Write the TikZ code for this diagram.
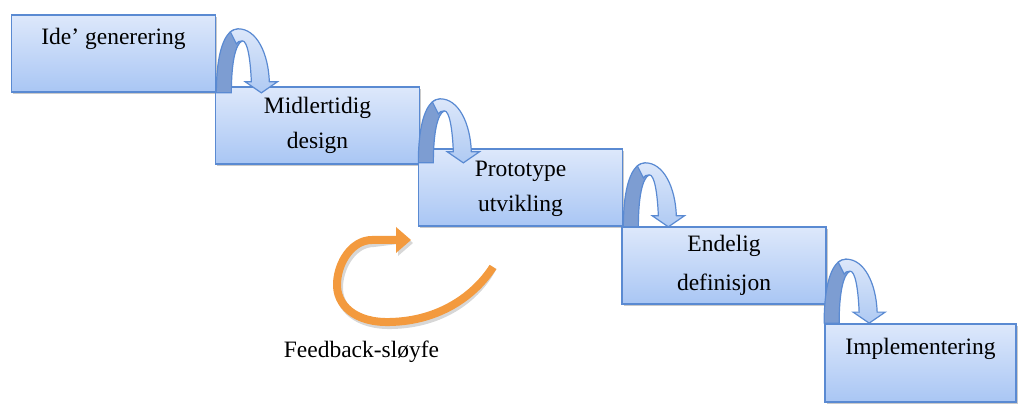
\documentclass[tikz,border=0pt]{standalone}
\usepackage{fontspec}
\setmainfont{Liberation Serif}
\usetikzlibrary{shadows}

\definecolor{boxtop}{HTML}{DDE8FB}
\definecolor{boxbot}{HTML}{A9C6F4}
\definecolor{edge}{HTML}{5A8AD2}
\definecolor{backband}{HTML}{7D9DD2}
\definecolor{fronttop}{HTML}{DCE7FA}
\definecolor{frontbot}{HTML}{AFCAF3}
\definecolor{loopcol}{HTML}{F39A3E}

\tikzset{
  stepbox/.style={draw=edge, line width=0.85pt, top color=boxtop, bottom color=boxbot,
    minimum width=102pt, minimum height=38.5pt, inner sep=0pt,
    drop shadow={shadow xshift=0.9pt, shadow yshift=-0.9pt, opacity=0.35, fill=black!60}},
  steplabel/.style={font=\fontsize{11.75}{14}\selectfont, anchor=base, inner sep=0pt},
  % ribbon arrow bending over from one step down onto the next
  bendarrow/.pic={
    \path[draw=edge, line width=0.6pt, fill=backband]
      (0,0) .. controls (0,-40) and (8,-64) .. (22,-64)
      -- (26,-52) .. controls (19,-49) and (15,-30) .. (15,0) -- cycle;
    \path[draw=edge, line width=0.6pt, top color=fronttop, bottom color=frontbot]
      (14,-61) .. controls (17,-63) and (19,-64) .. (22,-64)
      .. controls (40,-64) and (52,-40) .. (53,-11)
      -- (61,-11) -- (45,0) -- (29,-11) -- (35,-11)
      .. controls (34,-35) and (31,-52) .. (26,-52)
      .. controls (23,-52) and (21,-51) .. (20,-49) -- cycle;
  }
}

\begin{document}
\begin{tikzpicture}[x=0.5pt, y=-0.5pt]
\useasboundingbox (0,0) rectangle (1018,405);

% the five steps of the staircase
\node[stepbox] (s1) at (113.5,53.5) {};
\node[stepbox] (s2) at (317.5,125.5) {};
\node[stepbox] (s3) at (520.5,187.5) {};
\node[stepbox] (s4) at (724,265.5) {};
\node[stepbox, minimum width=95.5pt, minimum height=39pt] (s5) at (920.5,363) {};

% step texts
\node[steplabel] (t1) at ([yshift=-15pt]s1.north) {Ide’ generering};
\node[steplabel] (t2a) at ([yshift=-13.5pt]s2.north) {Midlertidig};
\node[steplabel] (t2b) at ([yshift=-31pt]s2.north) {design};
\node[steplabel] (t3a) at ([yshift=-14pt]s3.north) {Prototype};
\node[steplabel] (t3b) at ([yshift=-31.5pt]s3.north) {utvikling};
\node[steplabel] (t4a) at ([yshift=-12.5pt]s4.north) {Endelig};
\node[steplabel] (t4b) at ([yshift=-32pt]s4.north) {definisjon};
\node[steplabel] (t5) at ([yshift=-15.5pt]s5.north) {Implementering};

% bending arrows between the steps
\pic at (s1.south east) {bendarrow};
\pic at ([xshift=-1pt,yshift=1pt]s2.south east) {bendarrow};
\pic at (s3.south east) {bendarrow};
\pic at (s5.north west) {bendarrow};

% feedback loop
\coordinate (fbstart) at (493,267);
\coordinate (fbhead) at (398,240);
\begin{scope}[shift={(2,3)}]
  \draw[line width=4pt, black!45, opacity=0.35]
    (fbstart) .. controls (475,295) and (440,321) .. (390,322)
    .. controls (355,323) and (336,305) .. (337,283)
    .. controls (338,262) and (352,240) .. (372,240) -- (fbhead);
  \fill[black!45, opacity=0.35] (396,227) -- (411,240) -- (396,253) -- cycle;
\end{scope}
\draw[line width=4pt, loopcol]
  (fbstart) .. controls (475,295) and (440,321) .. (390,322)
  .. controls (355,323) and (336,305) .. (337,283)
  .. controls (338,262) and (352,240) .. (372,240) -- (fbhead);
\fill[loopcol] (396,227) -- (411,240) -- (396,253) -- cycle;

\node[steplabel] (fb) at (361.5,358) {Feedback-sløyfe};
\end{tikzpicture}
\end{document}
